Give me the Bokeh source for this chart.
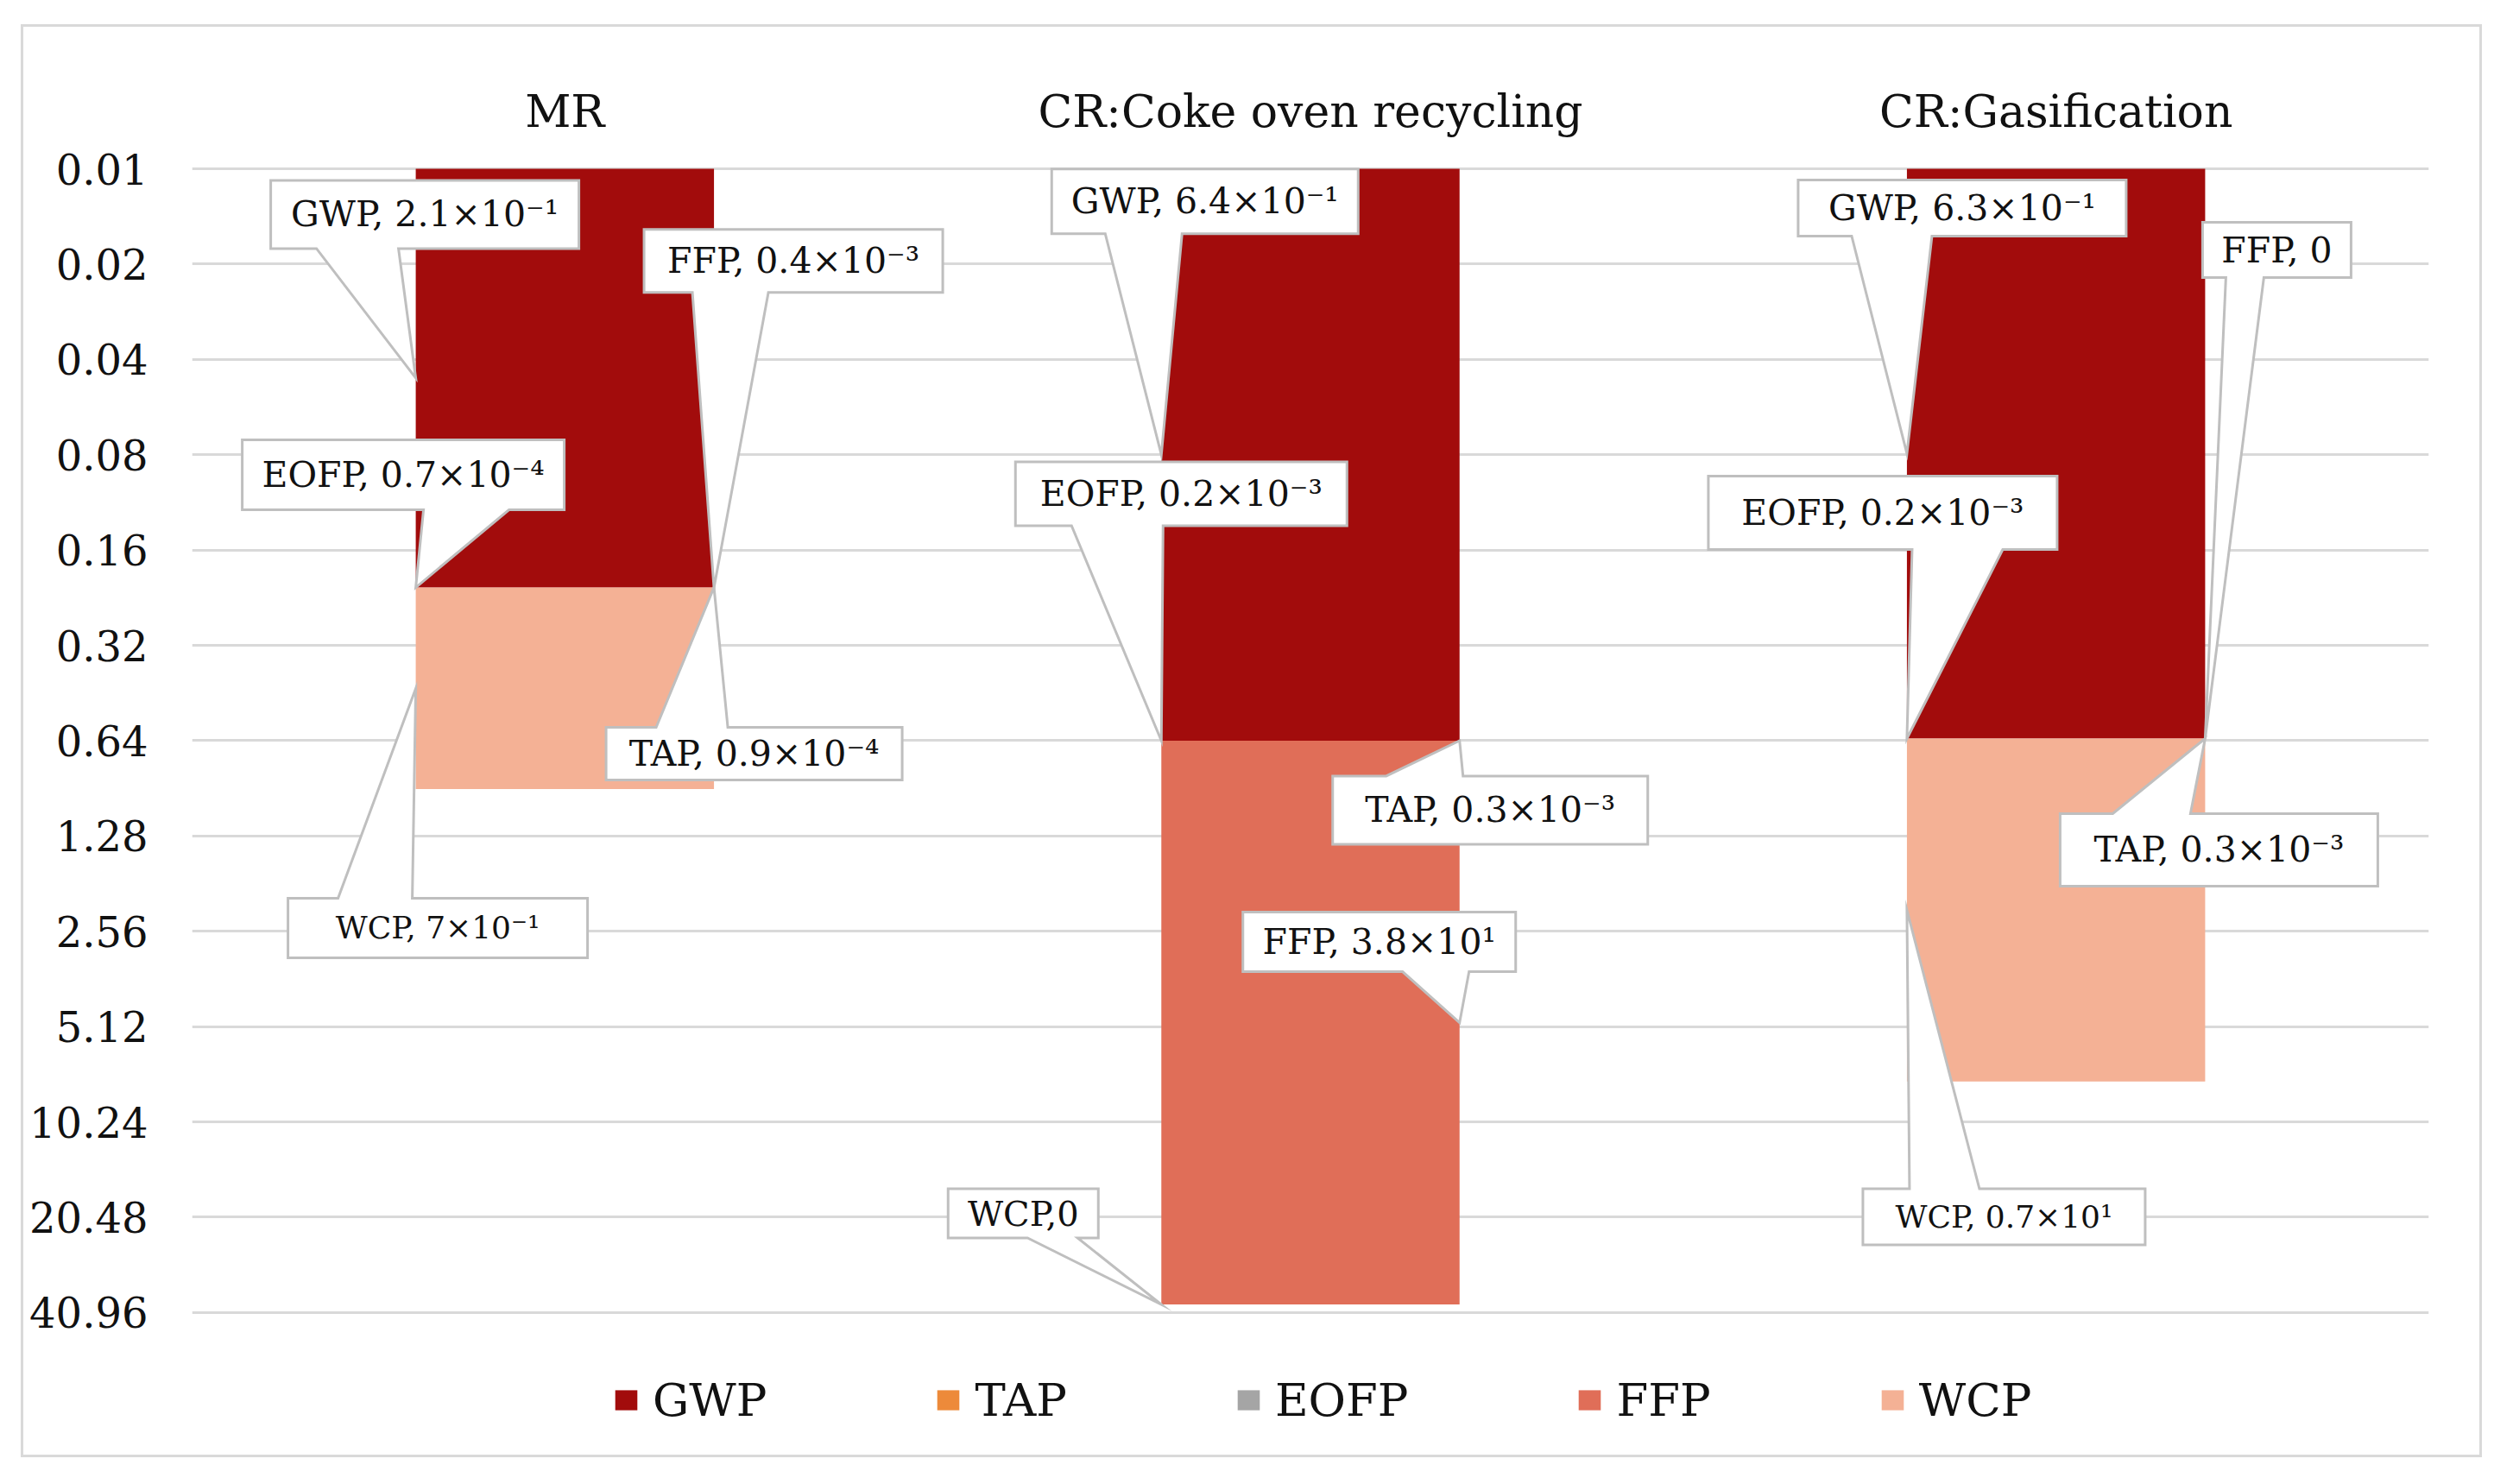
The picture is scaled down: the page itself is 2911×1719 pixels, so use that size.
import math
from bokeh.plotting import figure
from bokeh.models import (Range1d, FixedTicker, CustomJSTickFormatter, Legend, LegendItem,
                          ColumnDataSource)
from bokeh.core.properties import value
from bokeh.embed import file_html
from bokeh.resources import INLINE

# ---------------- data ----------------
categories = ["MR", "CR:Coke oven recycling", "CR:Gasification"]
series = ["GWP", "TAP", "EOFP", "FFP", "WCP"]
GWP = [0.21, 0.64, 0.63]
TAP = [0.9e-4, 0.3e-3, 0.3e-3]
EOFP = [0.7e-4, 0.2e-3, 0.2e-3]
FFP = [0.4e-3, 38.0, 0.0]
WCP = [0.7, 0.0, 7.0]
y_ticks = [0.01, 0.02, 0.04, 0.08, 0.16, 0.32, 0.64, 1.28, 2.56, 5.12, 10.24, 20.48, 40.96]

labels_MR = {"GWP": "GWP, 2.1×10⁻¹", "TAP": "TAP, 0.9×10⁻⁴", "EOFP": "EOFP, 0.7×10⁻⁴",
             "FFP": "FFP, 0.4×10⁻³", "WCP": "WCP, 7×10⁻¹"}
labels_coke = {"GWP": "GWP, 6.4×10⁻¹", "TAP": "TAP, 0.3×10⁻³", "EOFP": "EOFP, 0.2×10⁻³",
               "FFP": "FFP, 3.8×10¹", "WCP": "WCP,0"}
labels_gas = {"GWP": "GWP, 6.3×10⁻¹", "TAP": "TAP, 0.3×10⁻³", "EOFP": "EOFP, 0.2×10⁻³",
              "FFP": "FFP, 0", "WCP": "WCP, 0.7×10¹"}
point_labels = [labels_MR, labels_coke, labels_gas]

colors = {"GWP": "#A20C0C", "TAP": "#ED8A3A", "EOFP": "#A5A5A5", "FFP": "#E06E58", "WCP": "#F4B195"}
values = {"GWP": GWP, "TAP": TAP, "EOFP": EOFP, "FFP": FFP, "WCP": WCP}

# ---------------- layout constants ----------------
FONT = "DejaVu Serif"
PPL = 110.4                 # px per doubling on the log axis
TOP_PAD, BOTTOM_EXT = 3, 160  # px of frame above 0.01 / below 40.96 (legend room)
FRAME_W = 2591
FRAME_H = int(round(TOP_PAD + PPL * math.log2(y_ticks[-1] / y_ticks[0]) + BOTTOM_EXT))
B_LEFT, B_RIGHT, B_TOP = 195, 59, 161
FIG_W, FIG_H = 2845, 1654
B_BOTTOM = FIG_H - B_TOP - FRAME_H
X_START, X_END = -0.5, 2.5
Y_TOP = y_ticks[0] / 2 ** (TOP_PAD / PPL)
Y_BOT = Y_TOP * 2 ** (FRAME_H / PPL)
PXU = FRAME_W / (X_END - X_START)
BAR_W = 0.4
BASE = y_ticks[0]

p = figure(x_range=Range1d(X_START, X_END), y_range=Range1d(start=Y_BOT, end=Y_TOP),
           y_axis_type="log", x_axis_location="above",
           frame_width=FRAME_W, frame_height=FRAME_H,
           min_border_left=B_LEFT, min_border_right=B_RIGHT,
           min_border_top=B_TOP, min_border_bottom=B_BOTTOM,
           output_backend="svg", toolbar_location=None,
           background_fill_color="white", border_fill_color="white")
p.margin = (31, 0, 0, 27)
# chart-area border: drawn just outside the canvas so nothing paints over it
p.styles = {"width": f"{FIG_W}px", "height": f"{FIG_H}px",
            "outline": "3px solid #D9D9D9", "outline-offset": "0px"}
p.outline_line_color = None

# axes
ya = p.yaxis[0]
ya.ticker = FixedTicker(ticks=y_ticks)
ya.formatter = CustomJSTickFormatter(code="return tick.toFixed(2)")
ya.axis_line_color = None
ya.major_tick_line_color = None
ya.minor_tick_line_color = None
ya.major_label_standoff = 45
ya.major_label_text_font = FONT
ya.major_label_text_font_size = "48px"
ya.major_label_text_color = "#111111"

xa = p.xaxis[0]
xa.ticker = FixedTicker(ticks=list(range(len(categories))))
xa.major_label_overrides = {i: c for i, c in enumerate(categories)}
xa.axis_line_color = None
xa.major_tick_line_color = None
xa.minor_tick_line_color = None
xa.major_label_standoff = 28
xa.major_label_text_font = FONT
xa.major_label_text_font_size = "52px"
xa.major_label_text_color = "#111111"

p.xgrid.visible = False
p.ygrid.grid_line_color = "#D9D9D9"
p.ygrid.grid_line_width = 3

# ---------------- stacked bars ----------------
xs = list(range(len(categories)))
cum = [0.0] * len(categories)
seg = {}
renderers = {}
for s in series:
    bottoms, tops = [], []
    for i in xs:
        b = cum[i] if cum[i] > 0 else BASE
        cum[i] += values[s][i]
        t = cum[i]
        bottoms.append(b)
        tops.append(t)
    seg[s] = (bottoms, tops)
    src = ColumnDataSource(dict(x=xs, bottom=bottoms, top=tops))
    renderers[s] = p.vbar(x="x", bottom="bottom", top="top", width=BAR_W, source=src,
                          fill_color=colors[s], line_color=None)

# ---------------- callouts ----------------
# (category index, series, side, anchor, dx, dy, w, h, wedge edge, wx1, wx2, font px) offsets in px
callouts = [
    (0, "GWP", "L", "mid", -168, -229, 357, 79, "bottom", -115, -20, 41),
    (0, "EOFP", "L", "end", -201, -171, 373, 81, "bottom", 9, 108, 41),
    (0, "FFP", "R", "end", -81, -415, 346, 73, "bottom", -25, 63, 41),
    (0, "TAP", "R", "end", -125, 162, 343, 61, "top", -67, 16, 41),
    (0, "WCP", "L", "mid", -148, 243, 347, 69, "top", -90, -4, 36),
    (1, "GWP", "L", "mid", -127, -331, 355, 75, "bottom", -65, 24, 41),
    (1, "EOFP", "L", "end", -169, -323, 384, 74, "bottom", -104, 2, 41),
    (1, "TAP", "R", "end", -147, 41, 365, 79, "top", -85, 4, 41),
    (1, "FFP", "R", "mid", -251, -128, 316, 69, "bottom", -66, 11, 41),
    (1, "WCP", "L", "end", -247, -134, 174, 57, "bottom", -155, -97, 40),
    (2, "GWP", "L", "mid", -126, -317, 380, 65, "bottom", -64, 29, 41),
    (2, "FFP", "R", "end", -3, -598, 172, 64, "bottom", 24, 68, 41),
    (2, "EOFP", "L", "end", -230, -304, 404, 85, "bottom", 6, 111, 41),
    (2, "TAP", "R", "end", -168, 87, 368, 84, "top", -107, -17, 41),
    (2, "WCP", "L", "mid", -51, 323, 327, 65, "top", 3, 84, 36),
]

pxs, pys, tx, ty, tt, tf = [], [], [], [], [], []
for (ci, s, side, where, dx, dy, w, h, edge, w1, w2, fs) in callouts:
    b, t = seg[s][0][ci], seg[s][1][ci]
    ax = ci + (-BAR_W / 2 if side == "L" else BAR_W / 2)
    ay = math.sqrt(b * t) if where == "mid" else t
    L, T, R, B = dx, dy, dx + w, dy + h
    if edge == "bottom":
        pts = [(L, T), (R, T), (R, B), (w2, B), (0, 0), (w1, B), (L, B)]
    else:
        pts = [(L, T), (w1, T), (0, 0), (w2, T), (R, T), (R, B), (L, B)]
    pxs.append([ax + q[0] / PXU for q in pts])
    pys.append([ay * 2 ** (q[1] / PPL) for q in pts])
    tx.append(ax + (L + R) / 2 / PXU)
    ty.append(ay * 2 ** ((T + B) / 2 / PPL))
    tt.append(point_labels[ci][s])
    tf.append(f"{fs}px")

p.patches(xs=pxs, ys=pys, fill_color="white", line_color="#BFBFBF", line_width=3,
          line_join="miter")
p.text(x=tx, y=ty, text=tt, text_font=value(FONT), text_font_size=tf,
       text_align="center", text_baseline="middle", text_color="#111111")

# ---------------- legend (inside the extended frame, below the 40.96 line) ----------------
legend = Legend(items=[LegendItem(label=s, renderers=[renderers[s]]) for s in series],
                orientation="horizontal", location=(487, 28),
                label_text_font=FONT, label_text_font_size="53px", label_text_color="#111111",
                glyph_width=32, glyph_height=29, label_standoff=15, spacing=194,
                padding=0, margin=0, border_line_color=None, background_fill_alpha=0)
p.add_layout(legend, "center")

open("out.html", "w").write(file_html(p, INLINE))
